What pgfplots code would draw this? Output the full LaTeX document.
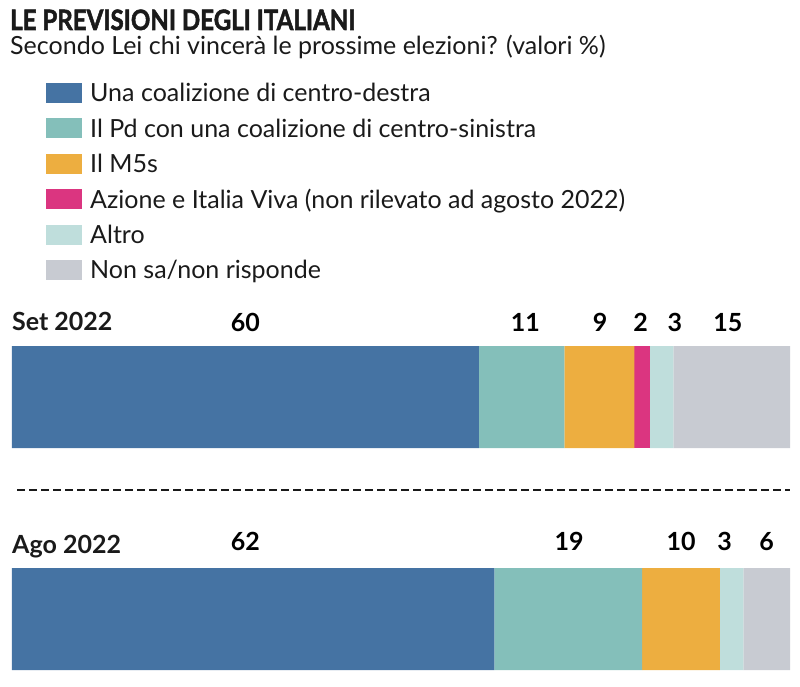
\documentclass[border=0pt]{standalone}
\usepackage{pgfplots}
\pgfplotsset{compat=1.18}
\usepackage{graphicx}
\usepackage{fontspec}
\setmainfont{Lato}
\newfontfamily\titlefont[BoldFeatures={FakeBold=2}]{Lato}
\definecolor{cDestra}{HTML}{4573A3}
\definecolor{cSinistra}{HTML}{84BFBA}
\definecolor{cMcinque}{HTML}{EDAE40}
\definecolor{cAzione}{HTML}{DB3580}
\definecolor{cAltro}{HTML}{BFDEDC}
\definecolor{cNonsa}{HTML}{C8CBD2}
\definecolor{cText}{HTML}{1A1A1A}
\tikzset{lbl/.style={anchor=base, inner sep=0pt, text=black, font=\bfseries\fontsize{25}{30}\selectfont}}
\begin{document}
\begin{tikzpicture}[x=1pt,y=1pt]
\path (0,0) rectangle (800,686);
% title
\node[anchor=base west, inner sep=0pt, text=cText, font=\titlefont\bfseries\fontsize{28}{34}\selectfont] at (10,656) {\scalebox{0.86}[1]{LE PREVISIONI DEGLI ITALIANI}};
\node[anchor=base west, inner sep=0pt, text=cText, font=\fontsize{25}{30}\selectfont] at (10,631) {Secondo Lei chi vincerà le prossime elezioni? (valori \%)};
% legend
\foreach \c/\t [count=\i from 0] in {cDestra/{Una coalizione di centro-destra}, cSinistra/{Il Pd con una coalizione di centro-sinistra}, cMcinque/{Il M5s}, cAzione/{Azione e Italia Viva (non rilevato ad agosto 2022)}, cAltro/{Altro}, cNonsa/{Non sa/non risponde}}{
  \fill[\c] (46,{593-\i*35.4-10}) rectangle (82,{593-\i*35.4+10});
  \node[anchor=base west, inner sep=0pt, text=cText, font=\fontsize{25}{30}\selectfont] at (90,{593-\i*35.4-9}) {\t};
}
% row labels
\node[anchor=base west, inner sep=0pt, text=cText, font=\bfseries\fontsize{25}{30}\selectfont] at (12,355) {Set 2022};
\node[anchor=base west, inner sep=0pt, text=cText, font=\bfseries\fontsize{25}{30}\selectfont] at (12,133) {Ago 2022};
% dashed separator
\draw[line width=2pt, cText, dash pattern=on 8pt off 4pt] (17,196) -- (790,196);
\begin{axis}[
  at={(12pt,0.4pt)}, anchor=south west,
  scale only axis, width=778pt, height=355.2pt,
  xmin=0, xmax=100, ymin=-0.3, ymax=1.3,
  xbar stacked, bar width=102pt,
  axis lines=none, ticks=none,
  clip=false,
]
\addplot[fill=cDestra, draw=none] coordinates {(60,1) (62,0)};
\addplot[fill=cSinistra, draw=none] coordinates {(11,1) (19,0)};
\addplot[fill=cMcinque, draw=none] coordinates {(9,1) (10,0)};
\addplot[fill=cAzione, draw=none] coordinates {(2,1) (0,0)};
\addplot[fill=cAltro, draw=none] coordinates {(3,1) (3,0)};
\addplot[fill=cNonsa, draw=none] coordinates {(15,1) (6,0)};
% value labels
\node[lbl, yshift=66pt] at (axis cs:30,1) {60};
\node[lbl, yshift=66pt] at (axis cs:66,1) {11};
\node[lbl, yshift=66pt] at (axis cs:75.6,1) {9};
\node[lbl, yshift=66pt] at (axis cs:80.8,1) {2};
\node[lbl, yshift=66pt] at (axis cs:85.2,1) {3};
\node[lbl, yshift=66pt] at (axis cs:92,1) {15};
\node[lbl, yshift=69pt] at (axis cs:30,0) {62};
\node[lbl, yshift=69pt] at (axis cs:71.6,0) {19};
\node[lbl, yshift=69pt] at (axis cs:86,0) {10};
\node[lbl, yshift=69pt] at (axis cs:91.6,0) {3};
\node[lbl, yshift=69pt] at (axis cs:97,0) {6};
\end{axis}
\end{tikzpicture}
\end{document}
